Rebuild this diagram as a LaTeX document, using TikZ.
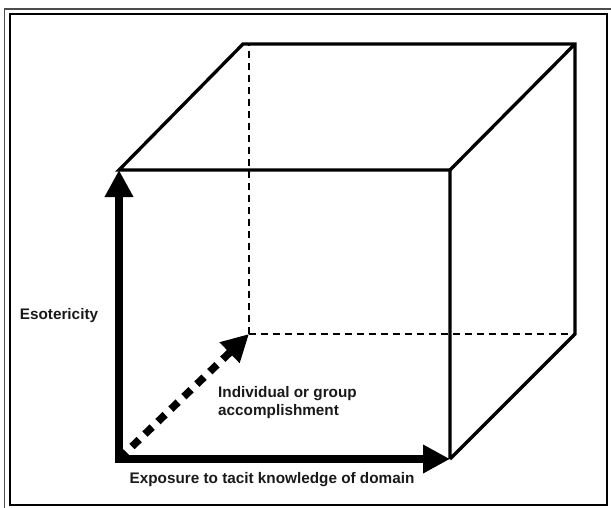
\documentclass[tikz,border=0pt]{standalone}
\usepackage{fontspec}
\setmainfont{Liberation Sans}
\usetikzlibrary{arrows.meta}
\begin{document}
\begin{tikzpicture}[x=1pt,y=-1pt,line join=miter,
		edge/.style={line width=3.3pt},
		hidden/.style={line width=1.6pt,dash pattern=on 7pt off 5pt},
		axis/.style={line width=7.5pt,-{Triangle[length=27pt,width=27pt]}},
		txt/.style={font=\bfseries\fontsize{15.3}{18}\selectfont,text=black!90,inner sep=0pt}]
		\useasboundingbox (0,0) rectangle (611,507);
		% frame
		\draw[line width=1.8pt,black!70] (4.5,9) rectangle (615,512);
		\draw[line width=1.8pt] (10,14) rectangle (607,505);
		% corners of the cube
		\coordinate (ftl) at (119,170);
		\coordinate (ftr) at (450,170);
		\coordinate (fbr) at (450,459);
		\coordinate (fbl) at (119,459);
		\coordinate (btl) at (243,44);
		\coordinate (btr) at (575,44);
		\coordinate (bbr) at (575,334);
		\coordinate (bbl) at (249,334);
		\draw[hidden] (bbl) -- (bbr);
		\draw[hidden] (bbl) -- (bbl |- btl);
		\draw[edge] (fbr) -- (ftr) -- (ftl) -- (btl) -- (btr) -- (bbr) -- (fbr);
		\draw[edge] (ftr) -- (btr);
		% axes
		\draw[axis,shorten <=-3.75pt] (fbl) -- (ftl);
		\draw[axis,shorten <=-3.75pt] (fbl) -- (fbr);
		\draw[axis,dash pattern=on 10pt off 8pt] (fbl) -- (bbl);
		% labels
		\node[txt] (eso) at (59,316) {Esotericity};
		\node[txt,align=left,anchor=west] (indiv) at (218,403) {Individual or group\\accomplishment};
		\node[txt] (expo) at (272,480) {Exposure to tacit knowledge of domain};
\end{tikzpicture}
\end{document}
